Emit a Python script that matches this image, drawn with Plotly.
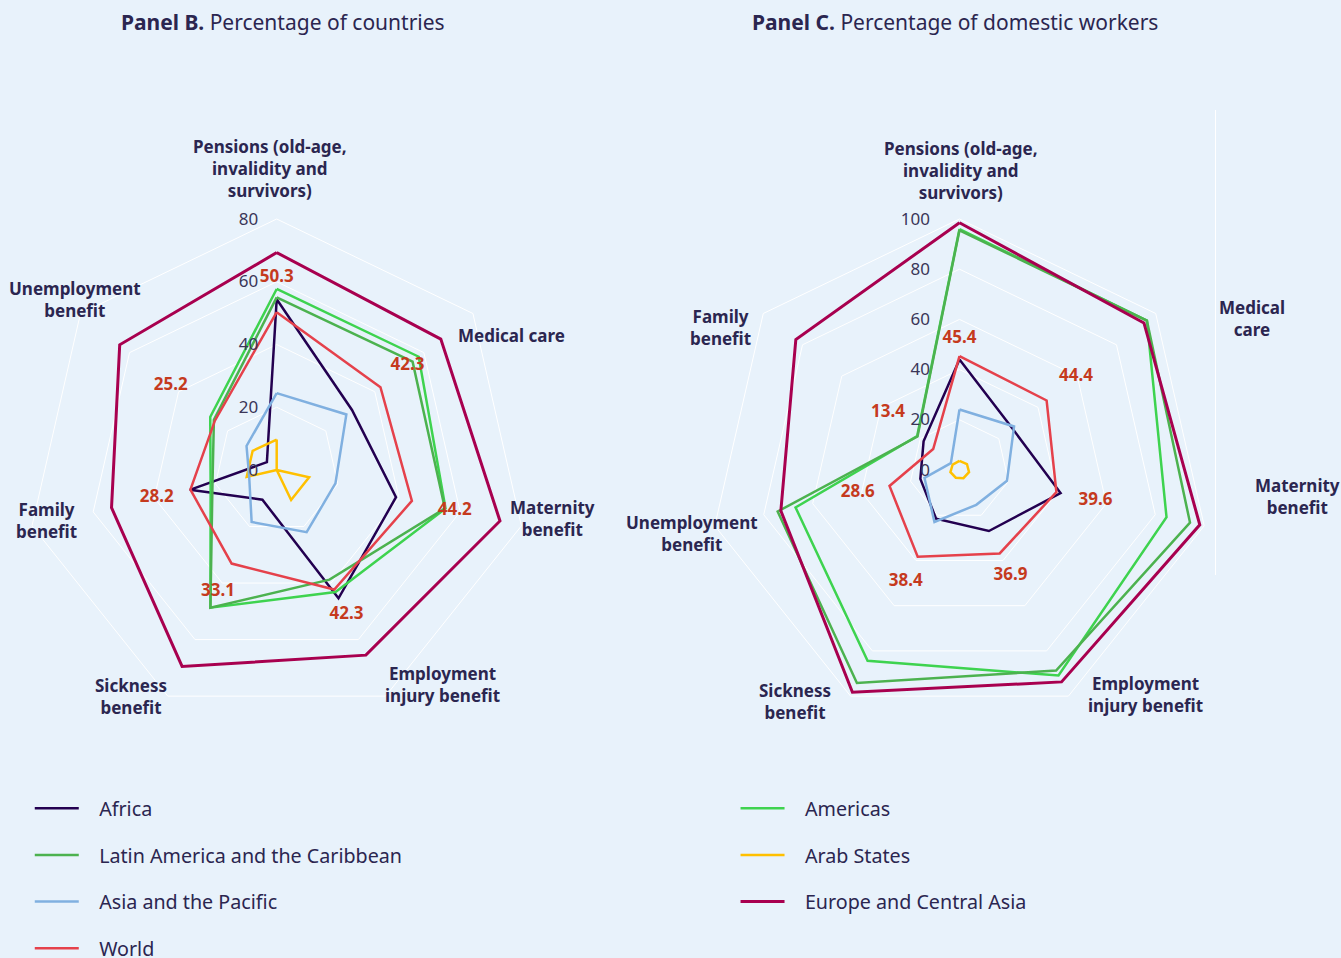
import plotly.graph_objects as go

# panel B: percentage of countries
cats_b = ["Pensions", "Medical care", "Maternity", "Employment injury",
          "Sickness", "Family", "Unemployment"]
africa_b = [54.4, 30.7, 39.0, 45.4, 10.5, 28.4, 4.0]
americas_b = [57.7, 57.9, 55.2, 43.2, 48.7, 21.6, 27.1]
latam_b = [55.0, 55.4, 55.0, 38.8, 48.7, 21.0, 25.6]
arab_b = [9.7, 0.0, 10.6, 10.6, 0.0, 9.8, 9.8]
asia_b = [24.5, 28.4, 19.2, 22.0, 18.4, 9.0, 12.3]
europe_b = [69.3, 66.9, 73.0, 65.5, 69.5, 54.0, 64.0]
world_b = [50.3, 42.3, 44.2, 42.3, 33.1, 28.2, 25.2]

# panel C: percentage of domestic workers
cats_c = ["Pensions", "Medical care", "Maternity", "Employment injury",
          "Sickness", "Unemployment", "Family"]
africa_c = [44.0, 26.8, 41.3, 27.0, 21.5, 16.0, 18.3]
americas_c = [96.0, 95.5, 84.6, 90.9, 84.4, 67.0, 21.6]
latam_c = [95.5, 95.5, 94.2, 88.7, 94.2, 74.3, 21.4]
arab_c = [3.6, 3.8, 3.9, 3.6, 3.4, 3.7, 3.5]
asia_c = [24.1, 27.8, 19.4, 15.4, 23.0, 14.3, 4.4]
europe_c = [98.5, 94.0, 98.2, 93.7, 98.3, 73.0, 83.4]
world_c = [45.4, 44.4, 39.6, 36.9, 38.4, 28.6, 13.4]

labels_b = ["Pensions (old-age,<br>invalidity and<br>survivors)", "Medical care",
            "Maternity<br>benefit", "Employment<br>injury benefit",
            "Sickness<br>benefit", "Family<br>benefit", "Unemployment<br>benefit"]
labels_c = ["Pensions (old-age,<br>invalidity and<br>survivors)", "Medical<br>care",
            "Maternity<br>benefit", "Employment<br>injury benefit",
            "Sickness<br>benefit", "Unemployment<br>benefit", "Family<br>benefit"]

# how far (axis units) the World value labels sit outside the World line
gap_b = [11, 11, 14, 9, 10, 11, 18]
gap_c = [7, 15, 16, 10, 11, 13, 23]

TEXT = "#2b2650"
BG = "#e8f2fb"
FONT = "Noto Sans"
PAD = "\u00a0\u00a0\u00a0"  # gap between legend line and its text

series = [
    # name, colour, width, legend, panel B, panel C
    ("Africa", "#230050", 2.5, "legend", africa_b, africa_c),
    ("Americas", "#3ed34f", 2.5, "legend2", americas_b, americas_c),
    ("Latin America and the Caribbean", "#4cb24f", 2.5, "legend", latam_b, latam_c),
    ("Arab States", "#ffc000", 2.5, "legend2", arab_b, arab_c),
    ("Asia and the Pacific", "#80b0e0", 2.5, "legend", asia_b, asia_c),
    ("Europe and Central Asia", "#a8004f", 3, "legend2", europe_b, europe_c),
    ("World", "#e5414b", 2.5, "legend", world_b, world_c),
]


def closed(v):
    return list(v) + [v[0]]


fig = go.Figure()
for name, col, w, leg, vb, vc in series:
    fig.add_trace(go.Scatterpolar(r=closed(vb), theta=closed(cats_b), mode="lines",
                                  name=PAD + name, legendgroup=name, legend=leg,
                                  line=dict(color=col, width=w), subplot="polar"))
    fig.add_trace(go.Scatterpolar(r=closed(vc), theta=closed(cats_c), mode="lines",
                                  name=PAD + name, legendgroup=name, showlegend=False,
                                  line=dict(color=col, width=w), subplot="polar2"))

# World value labels, pushed outward
lab_font = dict(color="#c53a1e", size=17, family=FONT, weight="bold")
fig.add_trace(go.Scatterpolar(r=[v + g for v, g in zip(world_b, gap_b)], theta=cats_b,
                              mode="text", text=[f"{v:.1f}" for v in world_b], showlegend=False,
                              textfont=lab_font, subplot="polar", hoverinfo="skip"))
fig.add_trace(go.Scatterpolar(r=[v + g for v, g in zip(world_c, gap_c)], theta=cats_c,
                              mode="text", text=[f"{v:.1f}" for v in world_c], showlegend=False,
                              textfont=lab_font, subplot="polar2", hoverinfo="skip"))


def polar_layout(xdom, rmax, cats, tlen):
    return dict(
        domain=dict(x=xdom, y=[0.2474, 0.7714]),
        bgcolor="rgba(0,0,0,0)",
        gridshape="linear",
        radialaxis=dict(range=[0, rmax], dtick=20, angle=90, tickangle=90,
                        side="counterclockwise", showline=False,
                        ticks="outside", ticklen=tlen, tickcolor="rgba(0,0,0,0)",
                        gridcolor="white", gridwidth=1,
                        tickfont=dict(size=17, color="#3a3658", family=FONT)),
        angularaxis=dict(categoryorder="array", categoryarray=cats, rotation=90,
                         direction="clockwise", showgrid=False, showticklabels=False,
                         ticks="", showline=True, linecolor="white", linewidth=1),
    )


# category labels placed around each radar (pixel centres)
pos_b = [(270, 168), (512, 335), (552, 518), (442, 684), (131, 696), (46, 520), (75, 300)]
pos_c = [(961, 170), (1252, 318), (1297, 497), (1145, 694), (795, 701), (692, 533), (720, 328)]

W, H = 1341, 958
ann = []
for txt, (px, py) in list(zip(labels_b, pos_b)) + list(zip(labels_c, pos_c)):
    ann.append(dict(text=f"<b>{txt}</b>", x=px / W, y=1 - py / H, xref="paper", yref="paper",
                    showarrow=False, xanchor="center", yanchor="middle", align="center",
                    font=dict(size=17, color=TEXT, family=FONT)))
ann.append(dict(text="<b>Panel B.</b> Percentage of countries", x=283 / W, y=1 - 22 / H,
                xref="paper", yref="paper", showarrow=False, xanchor="center", yanchor="middle",
                font=dict(size=21, color=TEXT, family=FONT)))
ann.append(dict(text="<b>Panel C.</b> Percentage of domestic workers", x=955 / W, y=1 - 22 / H,
                xref="paper", yref="paper", showarrow=False, xanchor="center", yanchor="middle",
                font=dict(size=21, color=TEXT, family=FONT)))

leg_common = dict(orientation="v", traceorder="grouped", tracegroupgap=18, itemwidth=44,
                  bgcolor="rgba(0,0,0,0)", yanchor="top", y=0.1764,
                  font=dict(size=19.7, color=TEXT, family=FONT))

fig.update_layout(
    width=W, height=H,
    margin=dict(l=0, r=0, t=0, b=0, autoexpand=False),
    paper_bgcolor=BG, plot_bgcolor=BG,
    font=dict(family=FONT, color=TEXT),
    polar=polar_layout([0.01917, 0.3935], 80, cats_b, 12),
    polar2=polar_layout([0.52834, 0.90268], 100, cats_c, 23),
    annotations=ann,
    legend=dict(x=0.0222, xanchor="left", **leg_common),
    legend2=dict(x=0.5485, xanchor="left", **leg_common),
    shapes=[dict(type="line", xref="paper", yref="paper", x0=1215.5 / W, x1=1215.5 / W,
                 y0=1 - 575 / H, y1=1 - 110 / H, line=dict(color="white", width=1))],
)

fig.write_html("out.html", config={"displayModeBar": False},
               post_script="document.body.style.margin='0px';document.body.style.overflow='hidden';")
